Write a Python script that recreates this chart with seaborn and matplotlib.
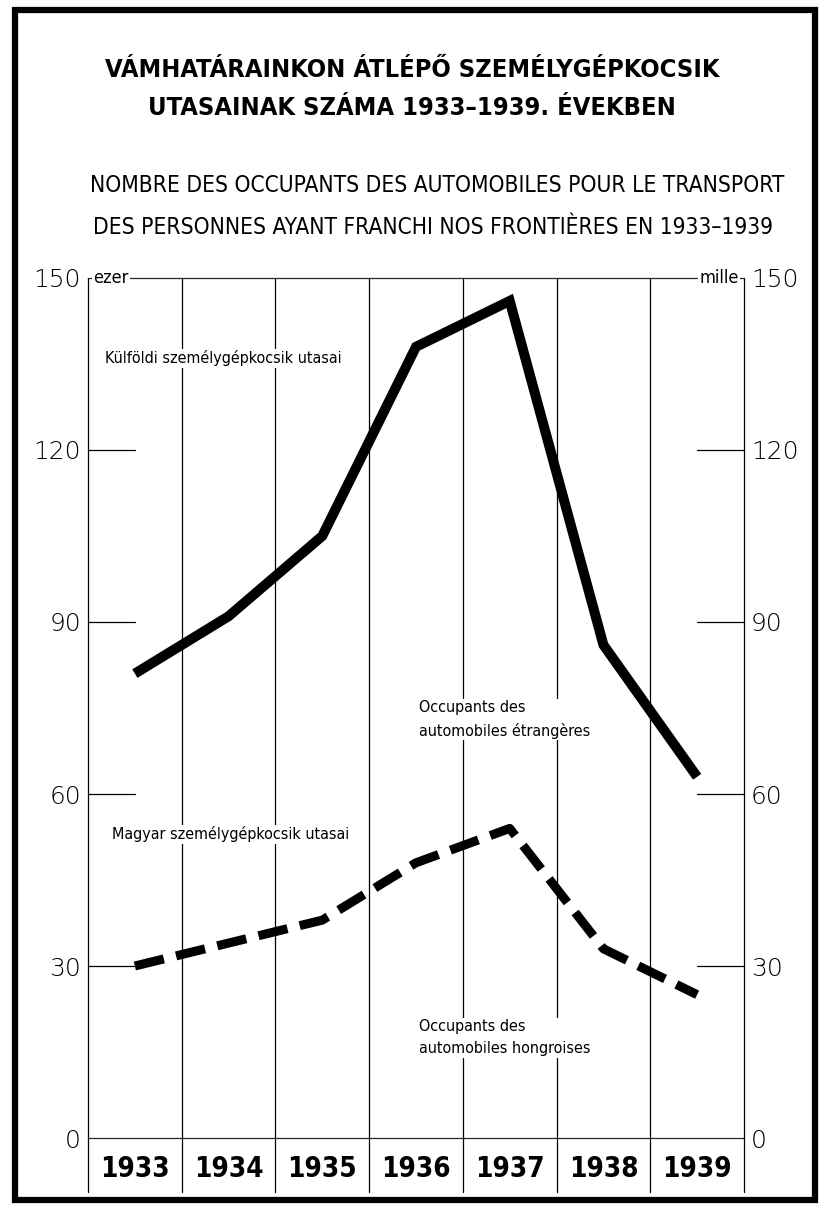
import pandas as pd
import matplotlib.pyplot as plt
import seaborn as sns
from matplotlib.patches import Rectangle

# Data (thousand persons)
years = [1933, 1934, 1935, 1936, 1937, 1938, 1939]
foreign = [81, 91, 105, 138, 146, 86, 63]
hungarian = [30, 34, 38, 48, 54, 33, 25]
y_ticks = [0, 30, 60, 90, 120, 150]
y_labels = ['0', '30', '60', '90', '120', '150']

df = pd.DataFrame({'year': years, 'foreign': foreign, 'hungarian': hungarian})

sns.set_style('white')
plt.rcParams['font.family'] = ['DejaVu Sans']
plt.rcParams['font.stretch'] = 'condensed'
plt.rcParams['text.color'] = 'black'
plt.rcParams['xtick.color'] = 'black'
plt.rcParams['ytick.color'] = 'black'

fig = plt.figure(figsize=(8.24, 12.09), dpi=100)
ax = fig.add_axes([88/824, 1 - 1138/1209, 656/824, 860/1209])

# Lines
sns.lineplot(data=df, x='year', y='foreign', ax=ax, color='black', lw=7.2,
             solid_joinstyle='miter', solid_capstyle='butt', zorder=5)
sns.lineplot(data=df, x='year', y='hungarian', ax=ax, color='black', lw=6.5,
             dashes=False, zorder=5)
ax.lines[-1].set_dashes((3.3, 1.4))
ax.lines[-1].set_dash_capstyle('butt')

ax.set_xlim(1932.5, 1939.5)
ax.set_ylim(0, 150)

# Column lines (also carry down through the year labels)
for b in [1932.5 + i for i in range(8)]:
    ax.plot([b, b], [-9.5, 150], color='black', lw=0.9, clip_on=False, zorder=1)

for s in ['left', 'right']:
    ax.spines[s].set_visible(False)
ax.spines['top'].set_linewidth(0.9)
ax.spines['bottom'].set_linewidth(0.9)

# Y ticks both sides
ax.set_yticks(y_ticks)
ax.set_yticklabels(y_labels)
ax.tick_params(axis='y', which='both', left=True, right=True, labelleft=True,
               labelright=True, direction='in', length=0, pad=5,
               labelsize=18, labelcolor='black')
for lab in ax.get_yticklabels():
    lab.set_fontweight('light')
    lab.set_fontstretch('normal')
for y in y_ticks[1:-1]:
    ax.plot([1932.5, 1933.0], [y, y], color='black', lw=0.9, zorder=1)
    ax.plot([1939.0, 1939.5], [y, y], color='black', lw=0.9, zorder=1)

# X ticks: year labels
ax.set_xticks(years)
ax.set_xticklabels([str(y) for y in years])
ax.tick_params(axis='x', direction='inout', length=14, width=0.9, pad=5,
               labelsize=20)
for lab in ax.get_xticklabels():
    lab.set_fontweight('bold')
ax.set_xlabel('')
ax.set_ylabel('')

# Unit labels on the top line
ax.text(1932.56, 150, 'ezer', ha='left', va='center', fontsize=13,
        bbox=dict(facecolor='white', edgecolor='none', pad=1), zorder=6)
ax.text(1939.44, 150, 'mille', ha='right', va='center', fontsize=13,
        bbox=dict(facecolor='white', edgecolor='none', pad=1), zorder=6)

# Series annotations
ann = dict(fontsize=11.5, va='center', ha='left', zorder=3,
           bbox=dict(facecolor='white', edgecolor='none', pad=1))
ax.text(1932.68, 136, 'Külföldi személygépkocsik utasai', **ann)
ax.text(1936.03, 73, 'Occupants des\nautomobiles étrangères', linespacing=1.6, **ann)
ax.text(1932.76, 53, 'Magyar személygépkocsik utasai', **ann)
ax.text(1936.03, 17.5, 'Occupants des\nautomobiles hongroises', linespacing=1.6, **ann)

# Titles
fig.text(0.5, 1 - 70/1209, 'VÁMHATÁRAINKON ÁTLÉPŐ SZEMÉLYGÉPKOCSIK',
         ha='center', va='center', fontsize=18.3, fontweight='bold')
fig.text(0.5, 1 - 108/1209, 'UTASAINAK SZÁMA 1933–1939. ÉVEKBEN',
         ha='center', va='center', fontsize=18.3, fontweight='bold')
fig.text(437/824, 1 - 186/1209,
         'NOMBRE DES OCCUPANTS DES AUTOMOBILES POUR LE TRANSPORT',
         ha='center', va='center', fontsize=16.3)
fig.text(433/824, 1 - 228/1209,
         'DES PERSONNES AYANT FRANCHI NOS FRONTIÈRES EN 1933–1939',
         ha='center', va='center', fontsize=16.3)

# Outer frame
fig.patches.append(Rectangle((15/824, 1 - 1200/1209), 800/824, 1190/1209,
                             transform=fig.transFigure, fill=False,
                             edgecolor='black', lw=4.5))

fig.savefig('out.png', dpi=100)
